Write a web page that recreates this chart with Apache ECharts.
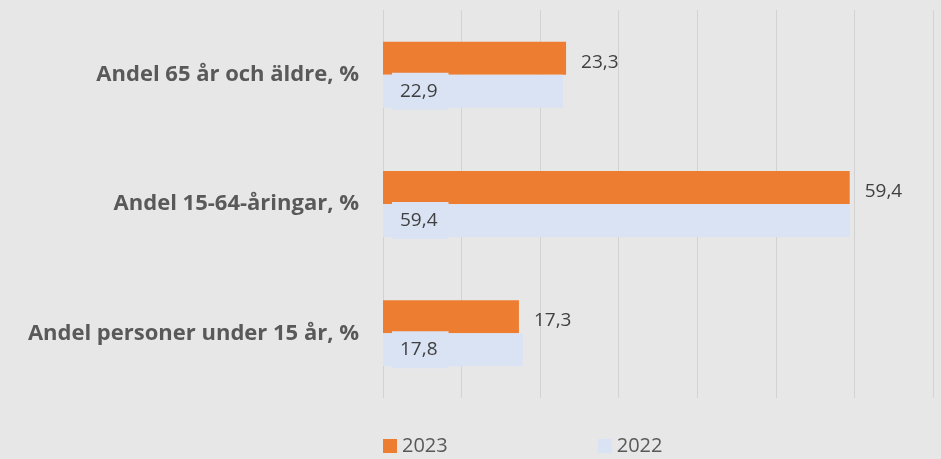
<!DOCTYPE html>
<html>
<head>
<meta charset="utf-8">
<script src="https://cdn.jsdelivr.net/npm/echarts@6/dist/echarts.min.js"></script>
<style>
  html, body { margin: 0; padding: 0; background: #e7e7e7; }
  #chart { width: 941px; height: 459px; }
</style>
</head>
<body>
<div id="chart"></div>
<script>
// kategorier (nerifrån och upp)
var categories = ['Andel personer under 15 år, %', 'Andel 15-64-åringar, %', 'Andel 65 år och äldre, %'];
var values2023 = [17.3, 59.4, 23.3];
var values2022 = [17.8, 59.4, 22.9];

var fmt = function(p) { return String(p.value).replace('.', ','); };

var chart = echarts.init(document.getElementById('chart'));
chart.setOption({
  backgroundColor: '#e7e7e7',
  animation: false,
  textStyle: { fontFamily: 'Open Sans' },
  grid: { left: 383, right: 8, top: 10, bottom: 61 },
  legend: {
    data: ['2023', '2022'],
    bottom: -2,
    left: 378,
    itemGap: 150,
    itemWidth: 14,
    itemHeight: 14,
    icon: 'rect',
    textStyle: { color: '#595959', fontSize: 20, fontFamily: 'Open Sans' }
  },
  xAxis: {
    type: 'value',
    min: 0,
    max: 70,
    interval: 10,
    axisLabel: { show: false },
    axisLine: { show: false },
    axisTick: { show: false },
    splitLine: { lineStyle: { color: '#d2d2d2', width: 1 } }
  },
  yAxis: {
    type: 'category',
    data: categories,
    axisLine: { show: false },
    axisTick: { show: false },
    axisLabel: { color: '#595959', fontSize: 22, fontWeight: 'bold', fontFamily: 'Open Sans', margin: 24 }
  },
  series: [
    {
      name: '2023',
      type: 'bar',
      data: values2023,
      barGap: '0%',
      barCategoryGap: '49%',
      itemStyle: { color: '#ed7d31' },
      label: {
        show: true,
        position: 'right',
        distance: 15,
        offset: [0, 4],
        formatter: fmt,
        color: '#404040',
        fontSize: 19,
        fontFamily: 'Open Sans'
      }
    },
    {
      name: '2022',
      type: 'bar',
      data: values2022,
      barGap: '0%',
      barCategoryGap: '49%',
      itemStyle: { color: '#dae3f3' },
      label: {
        show: true,
        position: 'insideLeft',
        offset: [4, 0],
        formatter: fmt,
        color: '#404040',
        fontSize: 19,
        fontFamily: 'Open Sans',
        backgroundColor: '#dae3f3',
        padding: [9, 11, 9, 8]
      }
    }
  ]
});
</script>
</body>
</html>
